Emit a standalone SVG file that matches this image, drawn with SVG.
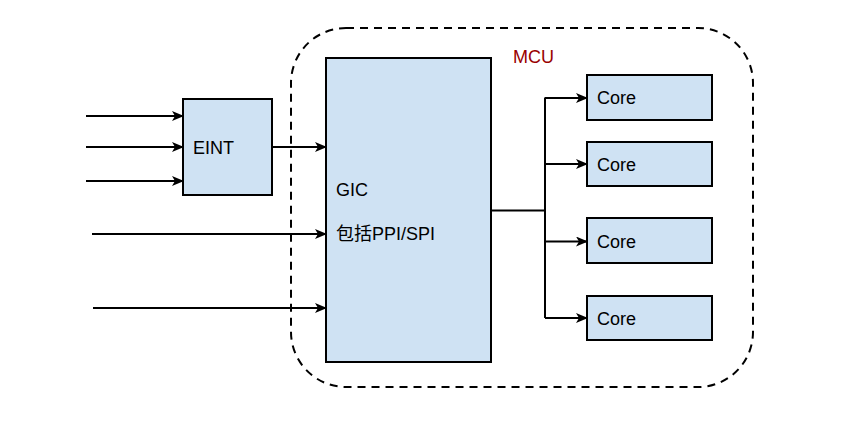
<svg xmlns="http://www.w3.org/2000/svg" width="864" height="425" viewBox="0 0 864 425">
<style>
.box{fill:#cfe2f3;stroke:#000;stroke-width:2}
.lbl{font-family:"Liberation Sans",Arial,"Noto Sans CJK SC",sans-serif;font-size:18px;fill:#000}
.ln{fill:none;stroke:#000;stroke-width:2}
.arr{fill:none;stroke:#000;stroke-width:2;marker-end:url(#ah)}
</style>
<defs>
<marker id="ah" viewBox="0 0 12 10" refX="11" refY="5" markerWidth="12" markerHeight="10" markerUnits="userSpaceOnUse" orient="auto">
<path d="M0,0 L12,5 L0,10 L3,5 Z" fill="#000"/>
</marker>
</defs>
<rect width="864" height="425" fill="#fff"/>
<g id="mcu">
<rect x="291" y="28" width="462" height="359" rx="55" ry="55" fill="none" stroke="#000" stroke-width="2" stroke-dasharray="8,6"/>
<text x="513" y="63" class="lbl" fill="#990000" style="fill:#990000">MCU</text>
</g>
<g id="eint">
<rect x="183" y="99" width="89" height="96" class="box"/>
<text x="193" y="154" class="lbl">EINT</text>
</g>
<g id="gic">
<rect x="326" y="58" width="165" height="304" class="box"/>
<text x="336" y="196" class="lbl">GIC</text>
<text x="336" y="240" class="lbl">包括PPI/SPI</text>
</g>
<g id="core1">
<rect x="587" y="75" width="125" height="45" class="box"/>
<text x="597" y="104" class="lbl">Core</text>
</g>
<g id="core2">
<rect x="587" y="142" width="125" height="44" class="box"/>
<text x="597" y="171" class="lbl">Core</text>
</g>
<g id="core3">
<rect x="587" y="218" width="125" height="45" class="box"/>
<text x="597" y="248" class="lbl">Core</text>
</g>
<g id="core4">
<rect x="587" y="296" width="125" height="44" class="box"/>
<text x="597" y="325" class="lbl">Core</text>
</g>
<g id="connectors">
<line x1="86" y1="116" x2="183" y2="116" class="arr"/>
<line x1="86" y1="147" x2="183" y2="147" class="arr"/>
<line x1="86" y1="181" x2="183" y2="181" class="arr"/>
<line x1="272" y1="147" x2="326" y2="147" class="arr"/>
<line x1="92" y1="234" x2="326" y2="234" class="arr"/>
<line x1="93" y1="308" x2="326" y2="308" class="arr"/>
<line x1="491" y1="210.5" x2="545" y2="210.5" class="ln"/>
<line x1="545" y1="97.5" x2="545" y2="318" class="ln"/>
<line x1="545" y1="98" x2="587" y2="98" class="arr"/>
<line x1="545" y1="164" x2="587" y2="164" class="arr"/>
<line x1="545" y1="241.5" x2="587" y2="241.5" class="arr"/>
<line x1="545" y1="318" x2="587" y2="318" class="arr"/>
</g>
</svg>
